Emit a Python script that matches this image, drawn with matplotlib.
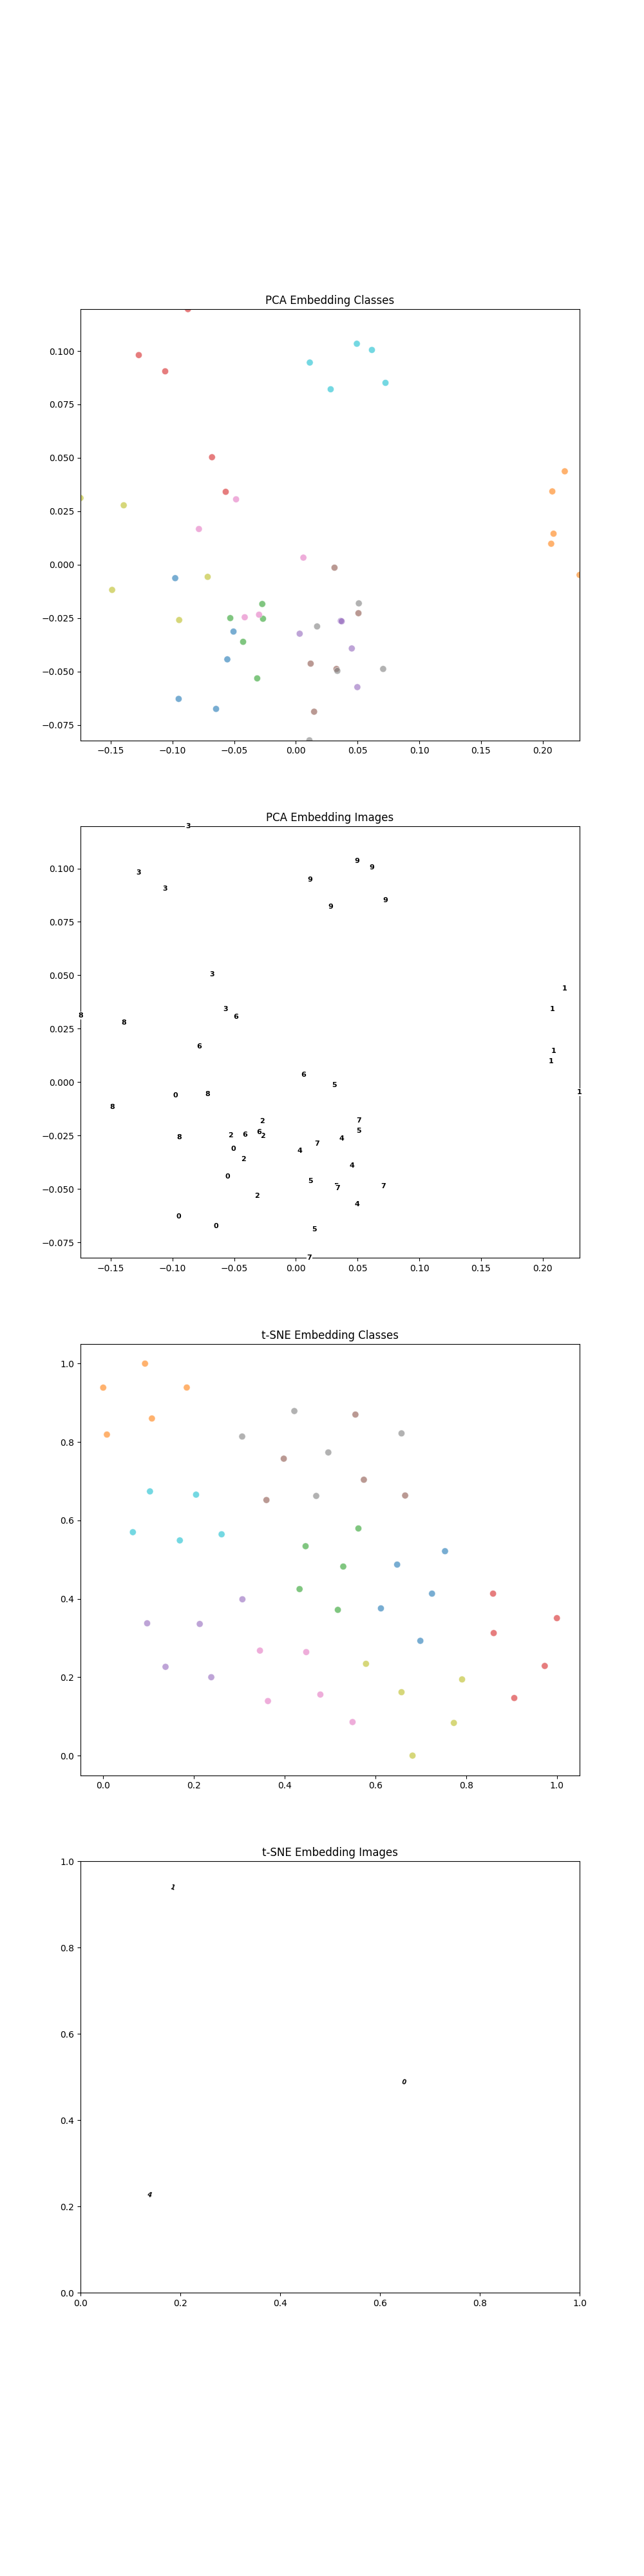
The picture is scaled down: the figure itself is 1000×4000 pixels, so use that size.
import matplotlib
matplotlib.use("Agg")
import matplotlib.pyplot as plt
import numpy as np

# class labels (10 classes, 5 samples each)
labels = [0, 0, 0, 0, 0,
          1, 1, 1, 1, 1,
          2, 2, 2, 2, 2,
          3, 3, 3, 3, 3,
          4, 4, 4, 4, 4,
          5, 5, 5, 5, 5,
          6, 6, 6, 6, 6,
          7, 7, 7, 7, 7,
          8, 8, 8, 8, 8,
          9, 9, 9, 9, 9]

# PCA embedding
pca_x = [-0.0977, -0.0505, -0.0555, -0.0949, -0.0646,
         0.2178, 0.2077, 0.2087, 0.2068, 0.2298,
         -0.0272, -0.0531, -0.0266, -0.0427, -0.0313,
         -0.0874, -0.1272, -0.1058, -0.0679, -0.0568,
         0.0364, 0.0371, 0.0453, 0.0031, 0.0498,
         0.0313, 0.0507, 0.0329, 0.0120, 0.0148,
         -0.0484, -0.0785, 0.0061, -0.0414, -0.0298,
         0.0510, 0.0336, 0.0707, 0.0172, 0.0110,
         -0.1744, -0.1394, -0.0714, -0.1488, -0.0945,
         0.0113, 0.0282, 0.0494, 0.0616, 0.0726]
pca_y = [-0.0063, -0.0313, -0.0443, -0.0628, -0.0675,
         0.0437, 0.0343, 0.0145, 0.0098, -0.0048,
         -0.0184, -0.0250, -0.0253, -0.0361, -0.0532,
         0.1196, 0.0981, 0.0905, 0.0503, 0.0341,
         -0.0263, -0.0265, -0.0392, -0.0323, -0.0573,
         -0.0014, -0.0227, -0.0488, -0.0463, -0.0688,
         0.0306, 0.0167, 0.0033, -0.0246, -0.0234,
         -0.0181, -0.0497, -0.0488, -0.0289, -0.0822,
         0.0312, 0.0278, -0.0057, -0.0118, -0.0259,
         0.0946, 0.0821, 0.1034, 0.1005, 0.0851]

# t-SNE embedding (normalised)
tsne_x = [0.7534, 0.6479, 0.7247, 0.6121, 0.6990,
          0.0000, 0.0922, 0.1842, 0.1074, 0.0082,
          0.4461, 0.5625, 0.5291, 0.5172, 0.4328,
          0.8593, 1.0000, 0.8607, 0.9732, 0.9060,
          0.3068, 0.0969, 0.2128, 0.1374, 0.2382,
          0.3980, 0.3598, 0.5559, 0.5745, 0.6655,
          0.3455, 0.4475, 0.3631, 0.4786, 0.5496,
          0.4213, 0.3063, 0.4962, 0.4695, 0.6575,
          0.5792, 0.7910, 0.6575, 0.7729, 0.6818,
          0.1031, 0.2047, 0.0654, 0.1689, 0.2610]
tsne_y = [0.5215, 0.4873, 0.4132, 0.3756, 0.2928,
          0.9387, 1.0000, 0.9390, 0.8600, 0.8190,
          0.5342, 0.5795, 0.4823, 0.3718, 0.4248,
          0.4132, 0.3507, 0.3126, 0.2287, 0.1469,
          0.3988, 0.3375, 0.3358, 0.2265, 0.2000,
          0.7575, 0.6520, 0.8700, 0.7038, 0.6635,
          0.2679, 0.2641, 0.1392, 0.1558, 0.0856,
          0.8790, 0.8140, 0.7734, 0.6624, 0.8220,
          0.2342, 0.1944, 0.1618, 0.0834, 0.0000,
          0.6740, 0.6657, 0.5700, 0.5490, 0.5646]

# samples whose thumbnails appear in the t-SNE image panel
tsne_shown = [7, 1, 23]

titles = ["PCA Embedding Classes", "PCA Embedding Images",
          "t-SNE Embedding Classes", "t-SNE Embedding Images"]

fig, axes = plt.subplots(4, 1, figsize=(10, 40))

px = np.array(pca_x)
py = np.array(pca_y)
tx = np.array(tsne_x)
ty = np.array(tsne_y)
lab = np.array(labels)

scatter_kw = dict(c=lab, cmap="tab10", vmin=0, vmax=9, s=55, alpha=0.6,
                  edgecolors="white", linewidths=0.6)

# 1. PCA classes
ax = axes[0]
ax.scatter(px, py, **scatter_kw)
ax.set_xlim(px.min(), px.max())
ax.set_ylim(py.min(), py.max())
ax.set_title(titles[0])

# 2. PCA images
ax = axes[1]
for xi, yi, li in zip(px, py, lab):
    ax.text(xi, yi, str(li), fontsize=8, fontweight="bold", color="black",
            ha="center", va="center", clip_on=False, zorder=3,
            bbox=dict(facecolor="white", edgecolor="none", pad=0.6))
ax.set_xlim(px.min(), px.max())
ax.set_ylim(py.min(), py.max())
ax.set_title(titles[1])

# 3. t-SNE classes
ax = axes[2]
ax.scatter(tx, ty, **scatter_kw)
ax.set_title(titles[2])

# 4. t-SNE images
ax = axes[3]
for i in tsne_shown:
    ax.text(tx[i], ty[i], str(lab[i]), fontsize=7, fontweight="bold",
            color="black", ha="center", va="center", rotation=-20,
            clip_on=False, zorder=3,
            bbox=dict(facecolor="white", edgecolor="none", pad=0.5))
ax.set_xlim(0, 1)
ax.set_ylim(0, 1)
ax.set_title(titles[3])

fig.savefig("out.png", dpi=100)
